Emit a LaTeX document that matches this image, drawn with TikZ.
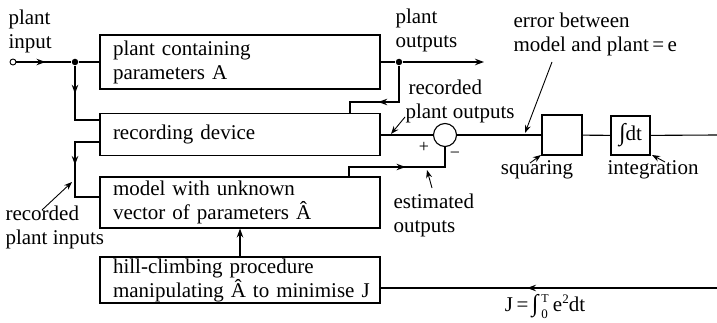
\documentclass[tikz,border=0pt]{standalone}
\usepackage{fontspec}
\setmainfont{Liberation Serif}
\usetikzlibrary{arrows.meta,decorations.markings}
\begin{document}
\begin{tikzpicture}[x=1pt,y=-1pt,line width=1.1pt,
  >={Stealth[length=9pt,width=6.5pt]},
  every node/.style={font=\fontsize{21}{24}\selectfont,inner sep=0pt},
  blk/.style={draw,minimum width=280pt,text width=254pt,align=left,inner xsep=13pt},
  lab/.style={align=left},
  dotnode/.style={circle,fill,minimum size=6.5pt},
  ptr/.style={-{Stealth[length=8pt,width=6pt]},line width=0.9pt},
  arrowat/.style={postaction={decorate},decoration={markings,mark=at position #1 with {\arrow{>}}}}]
\useasboundingbox (0,0) rectangle (717,323);

% blocks
\node[blk,minimum height=54pt] (plant) at (240,62) {plant containing\\parameters A};
\node[blk,minimum height=42pt] (rec) at (240,134.5) {recording device};
\node[blk,minimum height=51pt] (model) at (240,202.5) {model with unknown\\vector of parameters Â};
\node[blk,minimum height=46pt] (hill) at (240,280) {hill-climbing procedure\\\mbox{manipulating Â to minimise J}};
\node[circle,draw,line width=0.9pt,minimum size=6pt,fill=white] (in) at (13,62) {};
\node[dotnode] (j1) at (75,62) {};
\node[dotnode] (j2) at (399,62) {};
\node[circle,draw,minimum size=23pt] (sum) at (445,135) {};
\node[draw,minimum size=40pt] (sq) at (562,135) {};
\node[draw,minimum size=39pt] (int) at (630.5,135.5) {{\fontsize{24}{24}\selectfont ∫}dt};

% coordinates
\coordinate (pout) at (484,62);
\coordinate (recin) at (100,120);
\coordinate (recout) at (100,142);
\coordinate (modin) at (100,197);
\coordinate (rbend) at (350,102);
\coordinate (mbend) at (349,167);
\coordinate (rend) at (717,135);
\coordinate (fbin) at (717,288);

% connectors
\draw[arrowat=29pt] (in) -- (j1);
\draw (j1) -- (plant.west |- j1);
\draw[arrowat=28pt] (j1) |- (recin);
\draw[arrowat=48pt] (recout) -| (j1 |- modin) -- (modin);
\draw (plant.east |- j2) -- (j2);
\draw[->] (j2) -- (pout);
\draw[arrowat=57pt] (j2) |- (rbend) -- (rec.north -| rbend);
\draw (rec.east |- sum) -- (sum);
\draw[arrowat=66pt] (model.north -| mbend) -- (mbend) -- (sum.south |- mbend) -- (sum.south);
\draw (sum) -- (sq);
\draw (sq) -- (int);
\draw (int) -- (rend);
\draw[arrowat=190pt] (fbin) -- (hill.east |- fbin);
\draw[->] (hill.north) -- (model.south);

% labels
\node[lab,anchor=west] (lin) at (8,31) {plant\\input};
\node[lab,anchor=west] (lpo) at (395,30) {plant\\outputs};
\node[lab,anchor=west] (lrpo) at (405,101) {\hspace*{3pt}recorded\\plant outputs};
\node[lab,anchor=west] (lerr) at (513,34) {error between\\model and plant\,=\,e};
\node (lsq) at (537,170) {squaring};
\node (lint) at (653,170) {integration};
\node[lab,anchor=west] (lest) at (393,215) {estimated\\outputs};
\node[lab,anchor=west] (lrpi) at (5,227) {recorded\\plant inputs};
\node (lj) at (545,306) {J\,=\,{\fontsize{24}{24}\selectfont ∫}\kern3pt\makebox[0pt][l]{\raisebox{9pt}{\fontsize{12}{12}\selectfont T}}\raisebox{-7pt}{\fontsize{13}{13}\selectfont 0}\kern5pt e\raisebox{8pt}{\fontsize{13}{13}\selectfont 2}dt};
\node[font=\fontsize{18}{18}\selectfont] (plus) at (424,147) {+};
\node[font=\fontsize{18}{18}\selectfont] (minus) at (455,155) {−};

% pointer arrows
\coordinate (p1s) at (42,210); \coordinate (p1e) at (72,182);
\coordinate (p2s) at (405,117); \coordinate (p2e) at (391,134);
\coordinate (p3s) at (432,188); \coordinate (p3e) at (427,170);
\coordinate (p4s) at (552,62); \coordinate (p4e) at (525,133);
\coordinate (p5s) at (530,163); \coordinate (p5e) at (541,155);
\coordinate (p6s) at (665,162); \coordinate (p6e) at (652,155);
\draw[ptr] (p1s) -- (p1e);
\draw[ptr] (p2s) -- (p2e);
\draw[ptr] (p3s) -- (p3e);
\draw[ptr] (p4s) -- (p4e);
\draw[ptr] (p5s) -- (p5e);
\draw[ptr] (p6s) -- (p6e);
\end{tikzpicture}
\end{document}
